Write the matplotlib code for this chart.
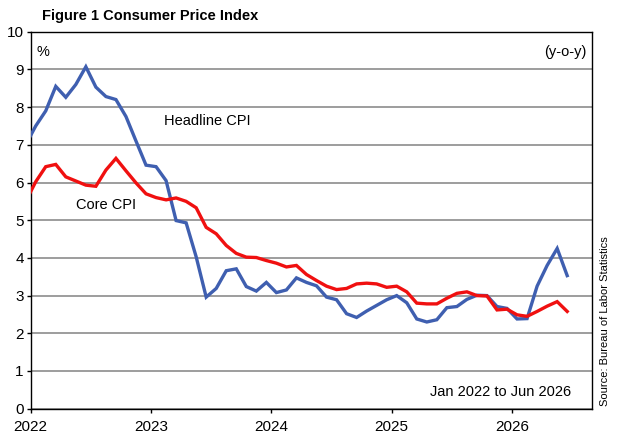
import numpy as np
import matplotlib
matplotlib.use("Agg")
import matplotlib.pyplot as plt

plt.rcParams['font.family'] = ['Liberation Sans', 'DejaVu Sans']

# monthly y-o-y %, Dec 2021 .. Jun 2026 (Dec 2021 only shows as the clipped start)
headline = [7.0,
            7.5, 7.9, 8.55, 8.26, 8.6, 9.07, 8.53, 8.28, 8.2, 7.75, 7.1, 6.46,
            6.42, 6.05, 4.99, 4.93, 4.03, 2.96, 3.19, 3.66, 3.71, 3.24, 3.12, 3.35,
            3.08, 3.15, 3.47, 3.35, 3.26, 2.96, 2.89, 2.52, 2.42, 2.59, 2.74, 2.89,
            3.0, 2.81, 2.38, 2.3, 2.36, 2.68, 2.71, 2.9, 3.01, 3.0, 2.71, 2.66,
            2.38, 2.39, 3.25, 3.8, 4.25, 3.53]
core = [5.5,
        6.02, 6.42, 6.48, 6.15, 6.04, 5.93, 5.9, 6.33, 6.64, 6.31, 5.99, 5.7,
        5.6, 5.54, 5.59, 5.5, 5.33, 4.81, 4.64, 4.33, 4.12, 4.02, 4.01, 3.93,
        3.86, 3.76, 3.8, 3.56, 3.4, 3.25, 3.16, 3.19, 3.31, 3.33, 3.31, 3.22,
        3.25, 3.1, 2.8, 2.78, 2.78, 2.93, 3.06, 3.1, 3.0, 2.99, 2.62, 2.64,
        2.49, 2.45, 2.58, 2.72, 2.84, 2.58]
years = ["2022", "2023", "2024", "2025", "2026"]

# months counted from Jan 2022, each value drawn mid-month
months = np.arange(-1, len(headline) - 1) + 0.5

fig = plt.figure(figsize=(6.19, 4.38), dpi=100)
ax = fig.add_axes([0.0496, 0.0669, 0.9072, 0.8607])

ax.plot(months, headline, color="#3f5fb0", lw=2.4, solid_joinstyle="miter", zorder=3)
ax.plot(months, core, color="#f01010", lw=2.4, solid_joinstyle="miter", zorder=4)

ax.set_xlim(0, 56)
ax.set_ylim(0, 10)
ax.set_yticks(range(0, 11))
ax.set_xticks([0, 12, 24, 36, 48])
ax.set_xticklabels(years)
ax.tick_params(axis="both", labelsize=11, direction="out", length=3, width=1, pad=2)
ax.tick_params(axis="x", pad=5)
ax.grid(axis="y", color="#8c8c8c", lw=1.2)
ax.set_axisbelow(True)
for s in ax.spines.values():
    s.set_linewidth(1.0)
    s.set_color("black")

fig.text(0.068, 0.964, "Figure 1 Consumer Price Index", fontsize=10.5,
         fontweight="bold", va="center", ha="left")
ax.text(0.01, 0.965, "%", transform=ax.transAxes, fontsize=10.5, va="top")
ax.text(0.99, 0.965, "(y-o-y)", transform=ax.transAxes, fontsize=10.5,
        va="top", ha="right")
ax.text(0.237, 0.762, "Headline CPI", transform=ax.transAxes, fontsize=10.5,
        va="center")
ax.text(0.081, 0.54, "Core CPI", transform=ax.transAxes, fontsize=10.5,
        va="center")
ax.text(0.962, 0.045, "Jan 2022 to Jun 2026", transform=ax.transAxes,
        fontsize=10.5, va="center", ha="right")
fig.text(0.977, 0.267, "Source: Bureau of Labor Statistics", fontsize=8,
         rotation=90, va="center", ha="center")

fig.savefig("out.png", dpi=100)
